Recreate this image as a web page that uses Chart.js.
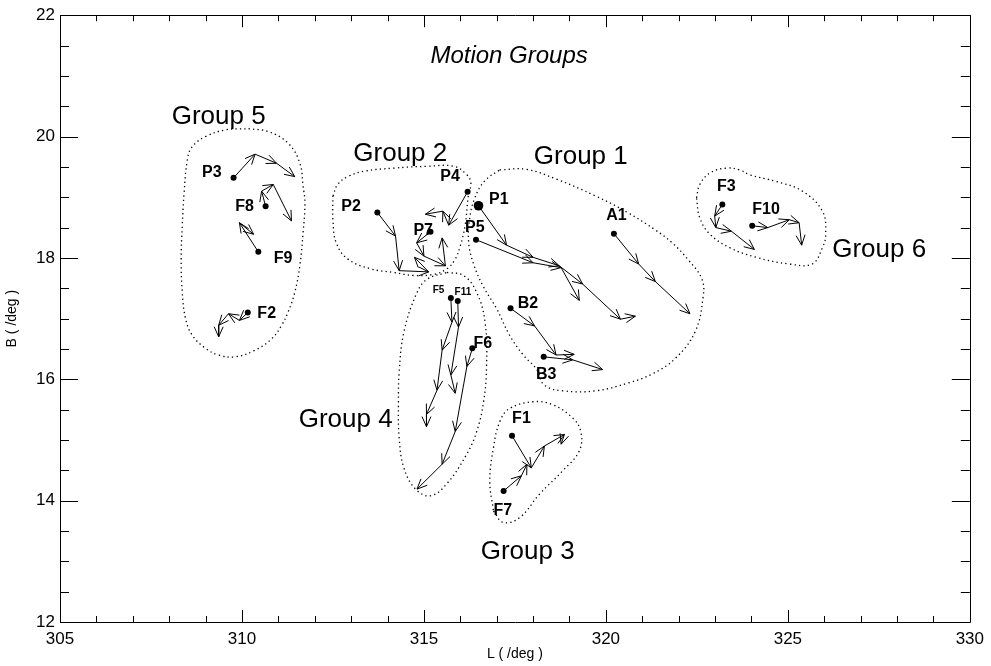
<!DOCTYPE html>
<html><head><meta charset="utf-8">
<script src="https://cdn.jsdelivr.net/npm/chart.js@4"></script>
<style>html,body{margin:0;padding:0;background:#fff}canvas{display:block}</style>
</head><body>
<canvas id="c" width="991" height="666"></canvas>
<script>
const FONT = '"Liberation Sans", Arial, Helvetica, sans-serif';

// ---- axes ----
const xMin = 305, xMax = 330, yMin = 12, yMax = 22;
const xTicks = [305, 310, 315, 320, 325, 330];
const yTicks = [12, 14, 16, 18, 20, 22];
const xTitle = 'L ( /deg )';
const yTitle = 'B ( /deg )';
const chartTitle = 'Motion Groups';
const titleL = 317.34, titleB = 21.33;

// ---- trajectories [L, B] (first point = object position) ----
const trackP3  = [[309.77,19.32],[310.36,19.71],[310.95,19.56],[311.45,19.34]];
const trackF8  = [[310.65,18.85],[310.54,19.10],[310.86,19.21],[311.36,18.61]];
const trackF9  = [[310.45,18.10],[309.93,18.58],[310.32,18.39]];
const trackF2  = [[310.16,17.10],[309.93,16.97],[309.63,17.08],[309.36,16.89],[309.36,16.70]];
const trackP2  = [[313.72,18.75],[314.22,18.36],[314.32,17.79],[315.13,17.77],[314.74,18.01]];
const trackP7  = [[315.18,18.43],[314.80,18.25],[315.00,18.03],[315.59,17.87],[315.50,18.33]];
const trackP4  = [[316.20,19.09],[315.68,18.54],[315.52,18.77],[315.04,18.72]];
const trackP1  = [[316.50,18.86],[317.27,18.21],[318.00,18.01],[318.72,17.87],[319.36,17.57],[320.40,16.99],[320.81,17.04]];
const trackP5  = [[316.43,18.30],[318.00,17.92],[318.77,17.84],[319.27,17.30]];
const trackA1  = [[320.22,18.40],[320.90,17.90],[321.36,17.61],[322.31,17.08]];
const trackB2  = [[317.38,17.17],[318.04,16.88],[318.63,16.40],[319.13,16.41]];
const trackB3  = [[318.29,16.37],[319.09,16.32],[319.91,16.16]];
const trackF5  = [[315.74,17.34],[315.77,16.94],[315.50,16.48],[315.36,15.82],[315.07,15.42],[315.07,15.22]];
const trackF11 = [[315.93,17.29],[315.95,16.86],[315.74,16.07],[315.86,15.77]];
const trackF6  = [[316.33,16.51],[316.18,16.21],[315.86,15.14],[315.50,14.60],[314.81,14.19]];
const trackF1  = [[317.42,15.07],[317.95,14.54],[318.31,14.90],[318.86,15.09],[318.77,14.93]];
const trackF7  = [[317.19,14.16],[317.68,14.41],[317.83,14.60]];
const trackF3  = [[323.20,18.88],[322.99,18.69],[323.02,18.50],[323.45,18.44],[324.08,18.14]];
const trackF10 = [[324.02,18.53],[324.45,18.50],[325.04,18.63],[325.31,18.58],[325.38,18.21]];

const trackNames = ['P3','F8','F9','F2','P2','P7','P4','P1','P5','A1','B2','B3','F5','F11','F6','F1','F7','F3','F10'];
const tracks = [trackP3,trackF8,trackF9,trackF2,trackP2,trackP7,trackP4,trackP1,trackP5,trackA1,trackB2,trackB3,trackF5,trackF11,trackF6,trackF1,trackF7,trackF3,trackF10];

// ---- object labels ----
const labelText = ['P3','F8','F9','F2','P2','P7','P4','P1','P5','A1','B2','B3','F5','F11','F6','F1','F7','F3','F10'];
const labelL = [309.17,310.07,311.13,310.68,313.00,314.98,315.72,317.06,316.40,320.29,317.86,318.36,315.40,316.07,316.62,317.68,317.17,323.31,324.40];
const labelB = [19.40,18.84,17.99,17.08,18.84,18.45,19.34,18.96,18.50,18.69,17.24,16.07,17.47,17.43,16.59,15.36,13.84,19.17,18.80];

// ---- group outlines [L, B] ----
const outlineG1 = [[317.08,19.45],[317.81,19.46],[318.63,19.30],[319.72,19.02],[320.62,18.74],[321.36,18.46],[321.82,18.25],[322.26,17.97],[322.64,17.65],[322.67,17.35],[322.45,16.78],[321.90,16.34],[321.28,16.09],[320.62,15.94],[319.72,15.81],[318.82,15.81],[318.30,15.91],[318.09,16.17],[317.73,16.40],[317.35,16.73],[317.00,17.16],[316.64,17.52],[316.37,17.89],[316.23,18.25],[316.26,18.66],[316.40,18.99],[316.67,19.27],[317.08,19.45]];
const outlineG2 = [[312.50,19.02],[312.63,19.21],[312.91,19.34],[313.36,19.43],[314.18,19.48],[315.09,19.51],[315.82,19.51],[316.18,19.37],[316.29,19.23],[316.22,19.02],[316.13,18.53],[316.00,18.20],[315.86,17.98],[315.63,17.82],[315.27,17.73],[314.72,17.71],[314.18,17.76],[313.54,17.82],[312.91,17.98],[312.59,18.25],[312.50,18.63],[312.50,19.02]];
const outlineG3 = [[316.91,13.83],[317.18,13.64],[317.63,13.72],[318.18,14.11],[318.81,14.49],[319.27,14.82],[319.31,15.14],[319.09,15.36],[318.54,15.58],[318.00,15.63],[317.36,15.52],[317.09,15.31],[316.91,14.87],[316.81,14.32],[316.91,13.83]];
const outlineG4 = [[315.63,17.76],[316.09,17.71],[316.45,17.43],[316.68,16.94],[316.72,16.21],[316.64,15.63],[316.45,15.14],[316.18,14.77],[315.63,14.28],[315.18,14.08],[314.77,14.19],[314.45,14.54],[314.32,15.03],[314.30,15.63],[314.32,16.12],[314.45,16.78],[314.81,17.43],[315.09,17.65],[315.63,17.76]];
const outlineG5 = [[310.18,20.13],[310.73,20.08],[311.27,19.89],[311.59,19.56],[311.68,19.18],[311.73,18.91],[311.68,18.42],[311.59,17.87],[311.45,17.43],[311.27,17.11],[311.09,16.89],[310.82,16.67],[310.36,16.48],[309.82,16.37],[309.36,16.40],[309.00,16.51],[308.63,16.73],[308.45,17.00],[308.36,17.43],[308.33,17.98],[308.36,18.53],[308.41,19.07],[308.50,19.62],[308.63,19.83],[309.00,20.00],[309.54,20.11],[310.18,20.13]];
const outlineG6 = [[322.49,18.99],[322.58,19.21],[322.86,19.40],[323.31,19.48],[323.68,19.45],[323.95,19.37],[324.68,19.26],[325.40,19.10],[325.95,18.77],[326.04,18.39],[325.95,18.17],[325.67,17.90],[325.04,17.90],[324.13,18.01],[323.40,18.17],[322.86,18.39],[322.58,18.66],[322.49,18.99]];
const outlines = [outlineG1, outlineG2, outlineG3, outlineG4, outlineG5, outlineG6];

// ---- group labels ----
const groupText = ['Group 1','Group 2','Group 3','Group 4','Group 5','Group 6'];
const groupL = [319.31,314.35,317.85,312.85,309.36,327.51];
const groupB = [19.66,19.72,13.16,15.34,20.33,18.14];

// ---------------------------------------------------------------
const toXY = arr => arr.map(p => ({x: p[0], y: p[1]}));
const datasets = [];
outlines.forEach(o => datasets.push({
  data: toXY(o), showLine: true, borderColor: '#000', borderWidth: 1.3,
  borderDash: [1.3, 3.2], pointRadius: 0, tension: 0.4, fill: false
}));
tracks.forEach(t => datasets.push({
  data: toXY(t), showLine: true, borderColor: '#000', borderWidth: 1,
  pointRadius: 0, tension: 0, fill: false, arrows: true
}));
datasets.push({
  data: tracks.map(t => ({x: t[0][0], y: t[0][1]})),
  showLine: false, pointRadius: trackNames.map(n => n === 'P1' ? 4.8 : 3),
  pointBackgroundColor: '#000', pointBorderColor: '#000', pointBorderWidth: 0
});

const arrowPlugin = {
  id: 'arrows',
  afterDatasetsDraw(chart) {
    const ctx = chart.ctx;
    chart.data.datasets.forEach((ds, i) => {
      if (!ds.arrows) return;
      const pts = chart.getDatasetMeta(i).data;
      ctx.save();
      ctx.strokeStyle = '#000'; ctx.lineWidth = 1;
      for (let j = 1; j < pts.length; j++) {
        const a = pts[j-1], b = pts[j];
        const ang = Math.atan2(b.y - a.y, b.x - a.x);
        const len = 11, spread = 0.42;
        ctx.beginPath();
        ctx.moveTo(b.x - len*Math.cos(ang - spread), b.y - len*Math.sin(ang - spread));
        ctx.lineTo(b.x, b.y);
        ctx.lineTo(b.x - len*Math.cos(ang + spread), b.y - len*Math.sin(ang + spread));
        ctx.stroke();
      }
      ctx.restore();
    });
  }
};

const textPlugin = {
  id: 'texts',
  afterDraw(chart) {
    const {ctx, scales: {x, y}} = chart;
    ctx.save();
    ctx.fillStyle = '#000';
    ctx.textAlign = 'center'; ctx.textBaseline = 'middle';
    labelText.forEach((t, i) => {
      const small = (t === 'F5' || t === 'F11');
      ctx.font = 'bold ' + (small ? 10 : 16) + 'px ' + FONT;
      ctx.fillText(t, x.getPixelForValue(labelL[i]), y.getPixelForValue(labelB[i]));
    });
    ctx.font = '26px ' + FONT;
    groupText.forEach((t, i) => {
      ctx.fillText(t, x.getPixelForValue(groupL[i]), y.getPixelForValue(groupB[i]));
    });
    ctx.font = 'italic 24px ' + FONT;
    ctx.fillText(chartTitle, x.getPixelForValue(titleL), y.getPixelForValue(titleB));
    ctx.restore();
  }
};

const framePlugin = {
  id: 'frame',
  afterDraw(chart) {
    const {ctx, chartArea: a, scales: {x, y}} = chart;
    ctx.save();
    ctx.strokeStyle = '#000'; ctx.lineWidth = 1;
    ctx.beginPath();
    ctx.rect(Math.round(a.left) + 0.5, Math.round(a.top) + 0.5, Math.round(a.width), Math.round(a.height));
    ctx.stroke();
    ctx.beginPath();
    for (let v = xMin; v <= xMax; v += 1) {
      const px = Math.round(x.getPixelForValue(v)) + 0.5;
      const len = xTicks.includes(v) ? 12 : 6;
      ctx.moveTo(px, a.bottom); ctx.lineTo(px, a.bottom - len);
      ctx.moveTo(px, a.top); ctx.lineTo(px, a.top + len);
    }
    for (let v = yMin; v <= yMax + 1e-9; v += 0.5) {
      const py = Math.round(y.getPixelForValue(v)) + 0.5;
      const len = yTicks.includes(v) ? 18 : 9;
      ctx.moveTo(a.left, py); ctx.lineTo(a.left + len, py);
      ctx.moveTo(a.right, py); ctx.lineTo(a.right - len, py);
    }
    ctx.stroke();
    ctx.restore();
  }
};

new Chart(document.getElementById('c'), {
  type: 'scatter',
  data: { datasets },
  options: {
    responsive: false, animation: false, devicePixelRatio: 1,
    layout: { padding: { top: 11, right: 14, left: 0, bottom: 0 } },
    plugins: { legend: { display: false }, tooltip: { enabled: false } },
    scales: {
      x: {
        type: 'linear', min: xMin, max: xMax,
        afterBuildTicks: s => { s.ticks = xTicks.map(v => ({value: v})); },
        afterFit: s => { s.height = 44; },
        grid: { display: false, drawTicks: false }, border: { display: false },
        ticks: { color: '#000', font: { family: FONT, size: 17 }, padding: 7, maxRotation: 0 },
        title: { display: true, text: xTitle, color: '#000', font: { family: FONT, size: 14 }, padding: { top: 0, bottom: 3 } }
      },
      y: {
        type: 'linear', min: yMin, max: yMax,
        afterBuildTicks: s => { s.ticks = yTicks.map(v => ({value: v})); },
        afterFit: s => { s.width = 60; },
        grid: { display: false, drawTicks: false }, border: { display: false },
        ticks: { color: '#000', font: { family: FONT, size: 17 }, padding: 5 },
        title: { display: true, text: yTitle, color: '#000', font: { family: FONT, size: 14 }, padding: { top: 4, bottom: 0 } }
      }
    }
  },
  plugins: [arrowPlugin, textPlugin, framePlugin]
});
</script>
</body></html>
